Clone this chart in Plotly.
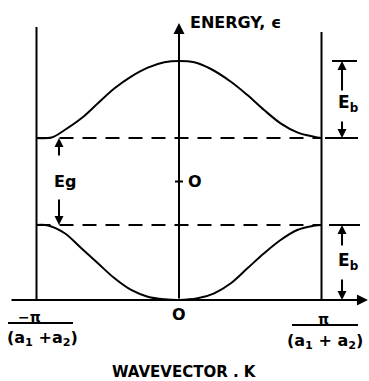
import plotly.graph_objects as go

# Wavevector in units of pi/(a1+a2), energy in units of the gap Eg (zero at mid-gap)
k_upper = [-1.0, -0.895, -0.802, -0.685, -0.569, -0.452, -0.336, -0.219, -0.103, 0.0,
           0.107, 0.224, 0.364, 0.480, 0.597, 0.713, 0.830, 0.946, 1.0]
e_upper = [0.5, 0.505, 0.592, 0.726, 0.899, 1.071, 1.205, 1.308, 1.370, 1.385,
           1.370, 1.293, 1.147, 0.994, 0.822, 0.669, 0.565, 0.515, 0.5]

k_lower = [-1.0, -0.918, -0.802, -0.685, -0.569, -0.452, -0.336, -0.219, -0.103, 0.0,
           0.131, 0.247, 0.364, 0.480, 0.597, 0.713, 0.830, 0.946, 1.0]
e_lower = [-0.5, -0.505, -0.595, -0.768, -0.940, -1.113, -1.247, -1.324, -1.354, -1.362,
           -1.343, -1.285, -1.170, -0.998, -0.825, -0.672, -0.557, -0.508, -0.5]

# Band structure levels
GAP_TOP = max(e_lower[0], e_lower[-1]) + 1.0      # bottom of upper band
GAP_BOTTOM = e_lower[0]                          # top of lower band
BAND_TOP = max(e_upper)
BAND_BOTTOM = min(e_lower)
ZONE = 1.0

FONT = "DejaVu Sans"
INK = "black"
LW = 2

fig = go.Figure()

for kk, ee in ((k_upper, e_upper), (k_lower, e_lower)):
    fig.add_trace(go.Scatter(
        x=kk, y=ee, mode="lines",
        line=dict(color=INK, width=LW, shape="spline", smoothing=1.0),
        hoverinfo="skip", showlegend=False,
    ))

shapes = []


def seg(x0, y0, x1, y1, dash="solid"):
    shapes.append(dict(type="line", xref="x", yref="y", x0=x0, y0=y0, x1=x1, y1=y1,
                       line=dict(color=INK, width=LW, dash=dash)))


# Zone boundaries
seg(-ZONE, BAND_BOTTOM, -ZONE, 1.776)
seg(ZONE, BAND_BOTTOM, ZONE, 1.718)
# Band-edge dashed levels
seg(-ZONE, GAP_TOP, ZONE, GAP_TOP, dash="14px,9px")
seg(-ZONE, GAP_BOTTOM, ZONE, GAP_BOTTOM, dash="14px,9px")
# Bracket bars for the bandwidth markers
seg(1.074, BAND_TOP, 1.249, BAND_TOP)
seg(1.025, GAP_TOP, 1.256, GAP_TOP)
seg(1.053, GAP_BOTTOM, 1.270, GAP_BOTTOM)
# Zero tick on the energy axis
seg(-0.028, 0.0, 0.028, 0.0)
# Fraction bars
seg(-1.20, -1.626, -0.744, -1.626)
seg(0.793, -1.649, 1.256, -1.649)

annotations = []


def arrow(x, y, ax, ay, head=2, size=1.0):
    annotations.append(dict(
        x=x, y=y, ax=ax, ay=ay, xref="x", yref="y", axref="x", ayref="y",
        text="", showarrow=True, arrowhead=head, arrowsize=size,
        arrowwidth=LW, arrowcolor=INK, standoff=0, startstandoff=0,
    ))


def label(x, y, text, size=16, xanchor="center"):
    annotations.append(dict(
        x=x, y=y, xref="x", yref="y", text=text, showarrow=False,
        xanchor=xanchor, yanchor="middle",
        font=dict(family=FONT, size=size, color=INK),
    ))


# Axes with arrowheads
arrow(0.0, 1.822, 0.0, BAND_BOTTOM, size=1.1)
arrow(1.326, BAND_BOTTOM, -1.186, BAND_BOTTOM, size=1.1)

# Gap marker Eg
arrow(-0.842, GAP_TOP, -0.842, 0.282, size=0.9)
arrow(-0.842, GAP_BOTTOM, -0.842, -0.19, size=0.9)
label(-0.80, 0.0, "<b>Eg</b>", size=16)

# Upper bandwidth marker
arrow(1.144, BAND_TOP, 1.144, 1.029, size=0.9)
arrow(1.144, GAP_TOP, 1.144, 0.707, size=0.9)
label(1.186, 0.902, "<b>E<sub>b</sub></b>", size=17)

# Lower bandwidth marker
arrow(1.144, GAP_BOTTOM, 1.144, -0.753, size=0.9)
arrow(1.144, BAND_BOTTOM, 1.144, -1.109, size=0.9)
label(1.186, -0.925, "<b>E<sub>b</sub></b>", size=17)

# Tick labels and titles
label(0.112, 0.0, "<b>O</b>", size=16)
label(0.0, -1.523, "<b>O</b>", size=16)
label(0.063, 1.833, "<b>ENERGY, ϵ</b>", size=16, xanchor="left")
label(-1.046, -1.560, "<b>−π</b>", size=14)
label(-0.961, -1.805, "<b>(a<sub>1</sub> +a<sub>2</sub>)</b>", size=16)
label(1.011, -1.575, "<b>π</b>", size=14)
label(1.025, -1.838, "<b>(a<sub>1</sub> + a<sub>2</sub>)</b>", size=16)
label(0.042, -2.190, "<b>WAVEVECTOR . K</b>", size=15)

fig.update_layout(
    width=369, height=381,
    margin=dict(l=0, r=0, t=0, b=0),
    paper_bgcolor="white", plot_bgcolor="white",
    xaxis=dict(range=[-1.2561, 1.3333], visible=False, fixedrange=True),
    yaxis=dict(range=[-2.2931, 2.0862], visible=False, fixedrange=True),
    shapes=shapes, annotations=annotations,
    showlegend=False,
)

fig.write_html("out.html", config={"displayModeBar": False})
